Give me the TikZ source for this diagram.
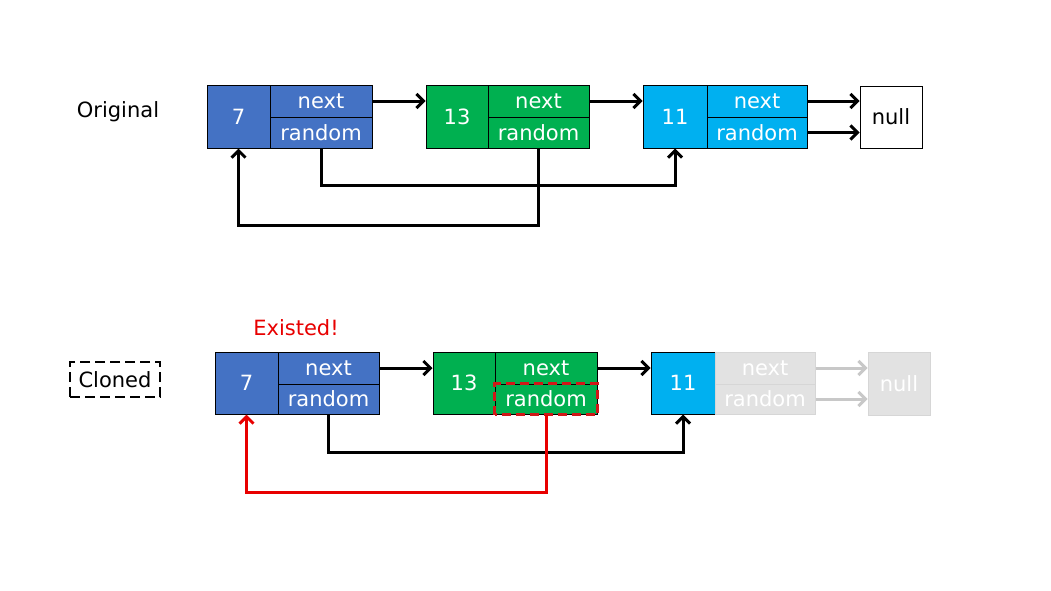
\documentclass[tikz,border=0pt]{standalone}
\usepackage{fontspec}
\setmainfont{DejaVu Sans}
\usetikzlibrary{arrows.meta}
\definecolor{cblue}{HTML}{4472C4}
\definecolor{cgreen}{HTML}{00B050}
\definecolor{ccyan}{HTML}{00B0F0}
\definecolor{cgray}{HTML}{E2E2E2}
\definecolor{cgrayline}{HTML}{D6D6D6}
\definecolor{cgrayarrow}{HTML}{C8C8C8}
\definecolor{cred}{HTML}{E80000}
\definecolor{cdred}{HTML}{D01818}
\begin{document}
\begin{tikzpicture}[x=1pt,y=-1pt,
  cell/.style={draw=black, line width=1pt, text=white, inner sep=0pt,
    font=\fontsize{21}{23}\selectfont},
  valcell/.style={cell, minimum height=63pt},
  ptrcell/.style={cell, minimum height=31pt, minimum width=101pt},
  graycell/.style={draw=cgrayline, fill=cgray, text=white},
  nullcell/.style={cell, text=black, minimum width=62pt, minimum height=62pt},
  arr/.style={line width=3pt, -{Straight Barb[length=7pt,width=14pt]}},
  grayarr/.style={arr, draw=cgrayarrow},
  redarr/.style={arr, draw=cred},
  lbl/.style={font=\fontsize{21}{23}\selectfont, inner sep=0pt}
]
\useasboundingbox (0,0) rectangle (1051,590);
\fill[white] (0,0) rectangle (1051,590);

% ---- Original row ----
\node[lbl] (orig) at (118,112) {Original};

\node[valcell, fill=cblue, minimum width=63pt] (a7v) at (238.5,116.5) {7};
\node[ptrcell, fill=cblue, minimum width=102pt, minimum height=32pt] (a7n) at (321,101) {next};
\node[ptrcell, fill=cblue, minimum width=102pt] (a7r) at (321,132.5) {random};

\node[valcell, fill=cgreen, minimum width=62pt] (a13v) at (457,116.5) {13};
\node[ptrcell, fill=cgreen, minimum height=32pt] (a13n) at (538.5,101) {next};
\node[ptrcell, fill=cgreen] (a13r) at (538.5,132.5) {random};

\node[valcell, fill=ccyan, minimum width=64pt] (a11v) at (675,116.5) {11};
\node[ptrcell, fill=ccyan, minimum width=100pt, minimum height=32pt] (a11n) at (757,101) {next};
\node[ptrcell, fill=ccyan, minimum width=100pt] (a11r) at (757,132.5) {random};

\node[nullcell] (anull) at (891,117) {null};

\draw[arr] (a7n.east) -- (a7n.east -| a13v.west);
\draw[arr] (a13n.east) -- (a13n.east -| a11v.west);
\draw[arr] (a11n.east) -- (a11n.east -| anull.west);
\draw[arr] (a11r.east) -- (a11r.east -| anull.west);
\draw[arr] (a7r.south) -- ++(0,37) -| (a11v.south);
\draw[arr] (a13r.south) -- ++(0,77) -| (a7v.south);

% ---- Cloned row ----
\node[lbl, draw=black, dash pattern=on 10pt off 5pt, line width=2pt,
  minimum width=90pt, minimum height=35pt] (clon) at (115,379.5) {Cloned};
\node[lbl, text=cred] (exist) at (296,328) {Existed!};

\node[valcell, fill=cblue, minimum width=63pt, minimum height=62pt] (b7v) at (246.5,383) {7};
\node[ptrcell, fill=cblue, minimum height=32pt] (b7n) at (328.5,368) {next};
\node[ptrcell, fill=cblue, minimum height=30pt] (b7r) at (328.5,399) {random};

\node[valcell, fill=cgreen, minimum width=62pt, minimum height=62pt] (b13v) at (464,383) {13};
\node[ptrcell, fill=cgreen, minimum width=102pt, minimum height=32pt] (b13n) at (546,368) {next};
\node[ptrcell, fill=cgreen, minimum width=102pt, minimum height=30pt] (b13r) at (546,399) {random};

\node[valcell, fill=ccyan, minimum width=64pt, minimum height=62pt] (b11v) at (683,383) {11};
\node[ptrcell, graycell, minimum width=100pt, minimum height=32pt] (b11n) at (765,368) {next};
\node[ptrcell, graycell, minimum width=100pt, minimum height=30pt] (b11r) at (765,399) {random};

\node[nullcell, graycell, minimum height=63pt] (bnull) at (899,383.5) {null};

\draw[cdred, line width=3.5pt, dash pattern=on 9pt off 5pt]
  (b13r.south west) rectangle (b13r.north east);

\draw[arr] (b7n.east) -- (b7n.east -| b13v.west);
\draw[arr] (b13n.east) -- (b13n.east -| b11v.west);
\draw[grayarr] (b11n.east) -- (b11n.east -| bnull.west);
\draw[grayarr] (b11r.east) -- (b11r.east -| bnull.west);
\draw[arr] (b7r.south) -- ++(0,38) -| (b11v.south);
\draw[redarr] (b13r.south) -- ++(0,78) -| (b7v.south);
\end{tikzpicture}
\end{document}
